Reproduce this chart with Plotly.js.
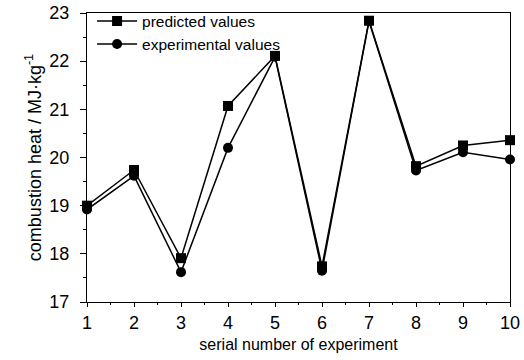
<!DOCTYPE html>
<html><head><meta charset="utf-8">
<script src="https://cdn.plot.ly/plotly-3.0.1.min.js"></script>
<style>body{margin:0;background:#fff}#c{width:524px;height:360px}</style>
</head><body><div id="c"></div>
<script>
const experiments = [1,2,3,4,5,6,7,8,9,10];
const predicted = [19.00,19.74,17.91,21.07,22.11,17.74,22.84,19.82,20.25,20.36];
const experimental = [18.92,19.62,17.62,20.20,22.09,17.65,22.83,19.73,20.11,19.96];
const FONT = '"Liberation Sans",Arial,sans-serif';
const traces = [
  {x: experiments, y: predicted, name: 'predicted values', type: 'scatter', mode: 'lines+markers',
   line: {color: '#000', width: 1.5}, marker: {symbol: 'square', size: 10, color: '#000'}, cliponaxis: false},
  {x: experiments, y: experimental, name: 'experimental values', type: 'scatter', mode: 'lines+markers',
   line: {color: '#000', width: 1.5}, marker: {symbol: 'circle', size: 10, color: '#000'}, cliponaxis: false}
];
const layout = {
  width: 524, height: 360,
  margin: {l: 87, r: 14, t: 13, b: 58, autoexpand: false},
  paper_bgcolor: '#fff', plot_bgcolor: '#fff',
  font: {family: FONT, size: 16, color: '#000'},
  showlegend: true,
  legend: {x: 0.012, y: 1.03, xanchor: 'left', yanchor: 'top', bgcolor: 'rgba(0,0,0,0)',
           font: {family: FONT, size: 15.5, color: '#000'}, tracegroupgap: 0, itemwidth: 40},
  xaxis: {range: [1, 10], tickmode: 'linear', tick0: 1, dtick: 1, ticks: 'outside', ticklen: 4,
          tickcolor: '#000', showline: true, linecolor: '#000', linewidth: 1, mirror: true,
          showgrid: false, zeroline: false, ticklabelstandoff: 0,
          minor: {dtick: 0.5, ticks: 'outside', ticklen: 2, tickcolor: '#000'},
          tickfont: {family: FONT, size: 18},
          title: {text: 'serial number of experiment', font: {family: FONT, size: 16}, standoff: 7}},
  yaxis: {range: [17, 23], tickmode: 'linear', tick0: 17, dtick: 1, ticks: 'outside', ticklen: 6,
          tickcolor: '#000', showline: true, linecolor: '#000', linewidth: 1, mirror: true,
          showgrid: false, zeroline: false, ticklabelstandoff: 7,
          minor: {dtick: 0.5, ticks: 'outside', ticklen: 3, tickcolor: '#000'},
          tickfont: {family: FONT, size: 18},
          title: {text: 'combustion heat / MJ·kg<sup>-1</sup>', font: {family: FONT, size: 18}, standoff: 3}}
};
Plotly.newPlot('c', traces, layout, {displayModeBar: false, staticPlot: true});
</script></body></html>
